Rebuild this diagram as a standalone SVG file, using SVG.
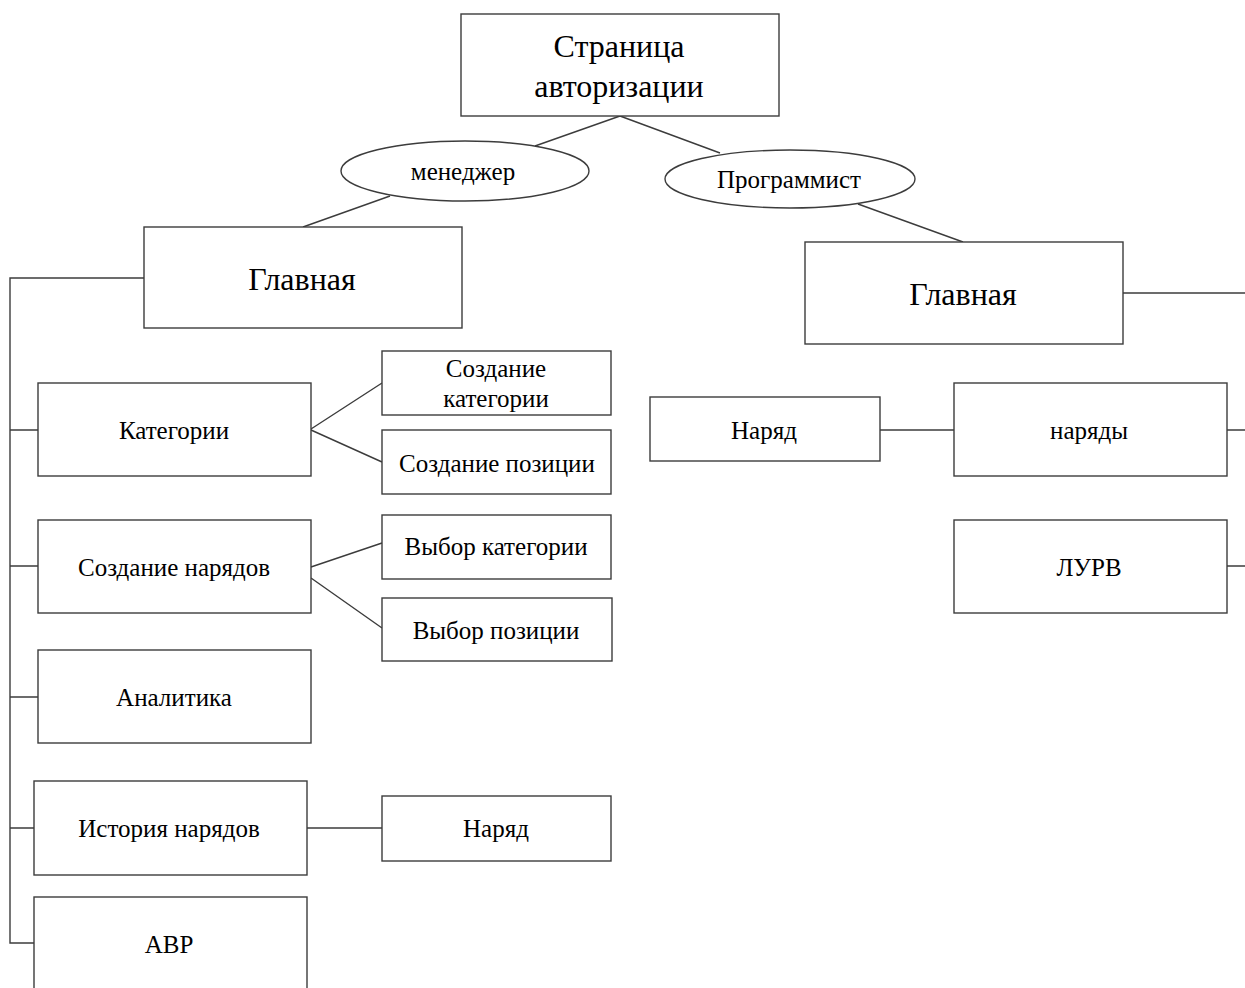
<svg xmlns="http://www.w3.org/2000/svg" width="1245" height="988" viewBox="0 0 1245 988">
<style>
.n{fill:#fff;stroke:#3c3c3c;stroke-width:1.4}
.c{fill:none;stroke:#3c3c3c;stroke-width:1.4}
text{font-family:"Liberation Serif","Times New Roman",serif;fill:#000;text-anchor:middle}
.b{font-size:32px}
.s{font-size:25px}
</style>
<rect width="1245" height="988" fill="#fff"/>
<g id="connectors">
<path class="c" d="M620,116 L535,146 M620,116 L720,153 M390,196 L303,227 M858,204 L963,242"/>
<path class="c" d="M144,278 H10 V943 H34 M10,430 H38 M10,566 H38 M10,697 H38 M10,828 H34"/>
<path class="c" d="M311,429 L382,383 M311,430 L382,462 M311,567 L382,543 M311,578 L382,628 M307,828 H382"/>
<path class="c" d="M1123,293 H1245 M880,430 H954 M1227,430 H1245 M1227,566 H1245"/>
</g>
<g id="auth"><rect class="n" x="461" y="14" width="318" height="102"/><text class="b" x="619" y="57">Страница</text><text class="b" x="619" y="97">авторизации</text></g>
<g id="manager"><ellipse class="n" cx="465" cy="171" rx="124" ry="30"/><text class="s" x="463" y="180">менеджер</text></g>
<g id="programmer"><ellipse class="n" cx="790" cy="179" rx="125" ry="29"/><text class="s" x="789" y="188">Программист</text></g>
<g id="main-left"><rect class="n" x="144" y="227" width="318" height="101"/><text class="b" x="302" y="290">Главная</text></g>
<g id="main-right"><rect class="n" x="805" y="242" width="318" height="102"/><text class="b" x="963" y="305">Главная</text></g>
<g id="categories"><rect class="n" x="38" y="383" width="273" height="93"/><text class="s" x="174" y="439">Категории</text></g>
<g id="create-category"><rect class="n" x="382" y="351" width="229" height="64"/><text class="s" x="496" y="377">Создание</text><text class="s" x="496" y="407">категории</text></g>
<g id="create-position"><rect class="n" x="382" y="430" width="229" height="64"/><text class="s" x="497" y="472">Создание позиции</text></g>
<g id="create-orders"><rect class="n" x="38" y="520" width="273" height="93"/><text class="s" x="174" y="576">Создание нарядов</text></g>
<g id="choose-category"><rect class="n" x="382" y="515" width="229" height="64"/><text class="s" x="496" y="555">Выбор категории</text></g>
<g id="choose-position"><rect class="n" x="382" y="598" width="230" height="63"/><text class="s" x="496" y="639">Выбор позиции</text></g>
<g id="analytics"><rect class="n" x="38" y="650" width="273" height="93"/><text class="s" x="174" y="706">Аналитика</text></g>
<g id="history"><rect class="n" x="34" y="781" width="273" height="94"/><text class="s" x="169" y="837">История нарядов</text></g>
<g id="order-left"><rect class="n" x="382" y="796" width="229" height="65"/><text class="s" x="496" y="837">Наряд</text></g>
<g id="avr"><rect class="n" x="34" y="897" width="273" height="100"/><text class="s" x="169" y="953">АВР</text></g>
<g id="order-right"><rect class="n" x="650" y="397" width="230" height="64"/><text class="s" x="764" y="439">Наряд</text></g>
<g id="orders"><rect class="n" x="954" y="383" width="273" height="93"/><text class="s" x="1089" y="439">наряды</text></g>
<g id="lurv"><rect class="n" x="954" y="520" width="273" height="93"/><text class="s" x="1089" y="576">ЛУРВ</text></g>
</svg>
